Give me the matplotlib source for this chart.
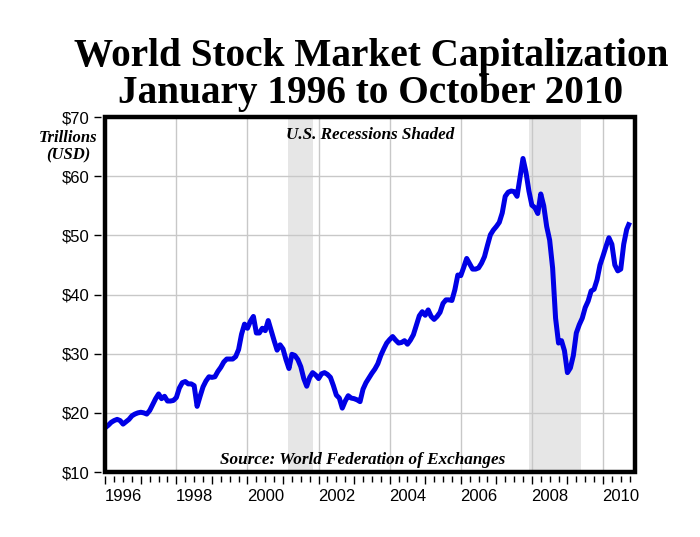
import matplotlib
matplotlib.use("Agg")
import matplotlib.pyplot as plt
from matplotlib.patches import Rectangle
from matplotlib.ticker import FixedLocator, FixedFormatter, FuncFormatter
import numpy as np

# monthly world market cap, trillions USD, Jan 1996 .. Oct 2010
cap_1996 = [17.5, 17.9, 18.4, 18.7, 18.9, 18.7, 18.1, 18.5, 18.9, 19.5, 19.8, 20.0]
cap_1997 = [20.1, 20.0, 19.8, 20.4, 21.4, 22.4, 23.2, 22.4, 22.8, 22.0, 22.0, 22.1]
cap_1998 = [22.6, 24.2, 25.1, 25.3, 24.9, 24.9, 24.6, 21.1, 22.8, 24.4, 25.4, 26.1]
cap_1999 = [26.0, 26.1, 27.0, 27.7, 28.6, 29.1, 29.1, 29.1, 29.5, 30.7, 33.3, 35.0]
cap_2000 = [34.3, 35.5, 36.3, 33.5, 33.5, 34.3, 33.9, 35.6, 33.9, 32.2, 30.6, 31.5]
cap_2001 = [30.8, 29.0, 27.5, 29.9, 29.7, 29.0, 27.8, 25.8, 24.5, 26.0, 26.8, 26.4]
cap_2002 = [25.8, 26.6, 26.8, 26.5, 26.0, 24.6, 23.0, 22.5, 20.8, 22.0, 22.9, 22.5]
cap_2003 = [22.4, 22.2, 21.9, 24.0, 25.1, 25.9, 26.7, 27.4, 28.3, 29.7, 30.8, 31.8]
cap_2004 = [32.4, 32.9, 32.3, 31.8, 31.9, 32.2, 31.6, 32.3, 33.2, 34.8, 36.4, 37.1]
cap_2005 = [36.5, 37.4, 36.3, 35.8, 36.3, 37.0, 38.5, 39.1, 39.1, 39.0, 40.8, 43.3]
cap_2006 = [43.2, 44.6, 46.1, 45.2, 44.3, 44.3, 44.5, 45.3, 46.4, 48.3, 50.1, 50.9]
cap_2007 = [51.5, 52.2, 53.8, 56.6, 57.3, 57.5, 57.4, 56.6, 59.8, 63.0, 60.7, 57.5]
cap_2008 = [55.1, 54.7, 53.7, 57.0, 55.0, 51.5, 49.2, 44.5, 36.0, 31.8, 32.2, 30.5]
cap_2009 = [26.8, 27.6, 29.7, 33.5, 34.9, 36.0, 37.8, 38.9, 40.6, 40.9, 42.5, 45.0]
cap_2010 = [46.5, 48.1, 49.6, 48.5, 45.0, 44.0, 44.3, 48.5, 51.0, 52.2]

market_cap = (cap_1996 + cap_1997 + cap_1998 + cap_1999 + cap_2000 + cap_2001
              + cap_2002 + cap_2003 + cap_2004 + cap_2005 + cap_2006 + cap_2007
              + cap_2008 + cap_2009 + cap_2010)
months = 1996 + np.arange(len(market_cap)) / 12.0

# US recessions (NBER), as decimal years
recessions = [(2001.15, 2001.85), (2007.92, 2009.38)]

y_ticks = [10, 20, 30, 40, 50, 60, 70]

serif = "Liberation Serif"
sans = "Liberation Sans"

fig = plt.figure(figsize=(7.0, 5.37), dpi=100)
ax = fig.add_axes([0.1504, 0.1210, 0.7567, 0.6610])

for start, end in recessions:
    ax.axvspan(start, end, color="#e6e6e6", lw=0, zorder=0)

ax.grid(axis="y", color="#c8c8c8", lw=1.0, zorder=1)
for yr in range(1998, 2011, 2):
    ax.axvline(yr, color="#c8c8c8", lw=1.0, zorder=1)

ax.plot(months, market_cap, color="#0000e6", lw=3.6, zorder=3,
        solid_joinstyle="round", solid_capstyle="butt")

ax.set_xlim(1996.0, 2010.9)
ax.set_ylim(10, 70)

# thick black frame drawn separately so the ticks can sit a bit off it
for s in ax.spines.values():
    s.set_visible(False)
ax.spines["left"].set_position(("outward", 3))
ax.spines["bottom"].set_position(("outward", 3))
ax.add_patch(Rectangle((0, 0), 1, 1, transform=ax.transAxes, fill=False,
                       ec="black", lw=3.2, clip_on=False, zorder=5))

ax.set_yticks(y_ticks)
ax.yaxis.set_major_formatter(FuncFormatter(lambda v, p: "$%d" % v))
ax.tick_params(axis="y", direction="out", length=5, width=1, pad=3,
               labelsize=12)

# yearly major ticks, quarterly minor ticks; labels sit mid-year every 2 years
ax.xaxis.set_major_locator(FixedLocator(np.arange(1996, 2011)))
ax.xaxis.set_major_formatter(FixedFormatter([""] * 15))
quarters = [y + q for y in range(1996, 2011) for q in (0.25, 0.5, 0.75)]
ax.xaxis.set_minor_locator(FixedLocator(quarters))
ax.xaxis.set_minor_formatter(FixedFormatter(
    [str(int(q)) if (q % 1 == 0.5 and int(q) % 2 == 0) else "" for q in quarters]))
ax.tick_params(axis="x", which="major", direction="out", length=6, width=1)
ax.tick_params(axis="x", which="minor", direction="out", length=4, width=1,
               labelsize=12, pad=5)
for lab in ax.get_yticklabels() + ax.get_xticklabels(minor=True):
    lab.set_fontfamily(sans)

ax.text(0.5, 0.972, "U.S. Recessions Shaded", transform=ax.transAxes,
        ha="center", va="top", fontsize=12.3, fontweight="bold",
        fontstyle="italic", family=serif, zorder=6)
ax.text(0.485, 0.012, "Source: World Federation of Exchanges",
        transform=ax.transAxes, ha="center", va="bottom", fontsize=12.3,
        fontweight="bold", fontstyle="italic", family=serif, zorder=6)

fig.text(0.097, 0.727, "Trillions\n(USD)", ha="center", va="center",
         fontsize=12, fontweight="bold", fontstyle="italic", family=serif,
         linespacing=1.05)

fig.text(0.530, 0.877, "World Stock Market Capitalization", ha="center",
         va="baseline", fontsize=28.3, fontweight="bold", family=serif)
fig.text(0.530, 0.808, "January 1996 to October 2010", ha="center",
         va="baseline", fontsize=28.3, fontweight="bold", family=serif)

fig.savefig("out.png", dpi=100, facecolor="white")
